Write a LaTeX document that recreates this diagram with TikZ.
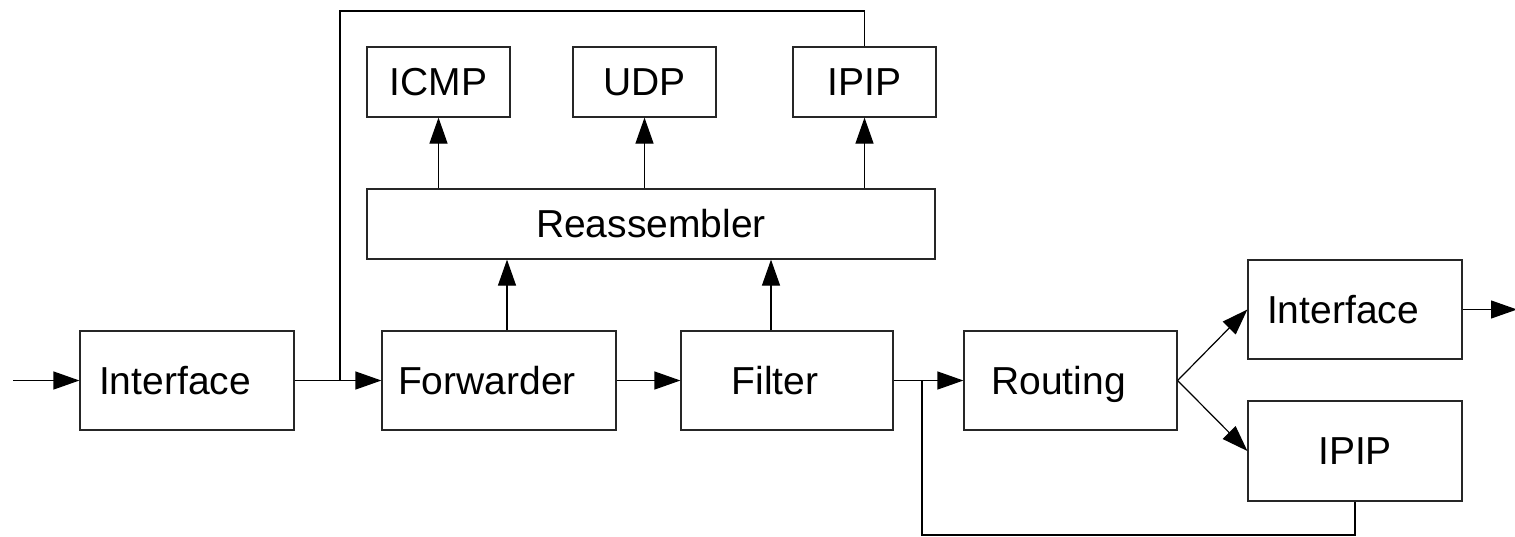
\documentclass[tikz,border=0pt]{standalone}
\usepackage{fontspec}
\setmainfont{Liberation Sans}
\usetikzlibrary{arrows.meta}
\begin{document}
\begin{tikzpicture}[x=0.5pt,y=-0.5pt,
  every node/.style={font=\fontsize{19.5}{23}\selectfont,
    text height=14pt,text depth=0.5pt},
  block/.style={draw=black!85,line width=0.6pt,fill=white,inner sep=0pt,
    minimum width=#1*0.5pt,minimum height=49.5pt},
  block/.default=214,
  smallblock/.style={draw=black!85,line width=0.6pt,fill=white,inner sep=0pt,
    minimum width=71.5pt,minimum height=35pt},
  wire/.style={draw=black,line width=0.6pt},
  flow/.style={wire,-{Triangle[length=13pt,width=9pt]}}]
\useasboundingbox (0,0) rectangle (1515,536);

% main datapath (labels sit a little left of centre)
\newcommand{\lbl}[1]{#1\kern12pt}
\node[block=214]   (if1)   at (187,380.5)    {\lbl{Interface}};
\node[block=234]   (fwd)   at (499,380.5)    {\lbl{Forwarder}};
\node[block=212]   (filt)  at (787,380.5)    {\lbl{Filter}};
\node[block=213]   (rout)  at (1070.5,380.5) {\lbl{Routing}};
\node[block=214]   (if2)   at (1355,309.5)   {\lbl{Interface}};
\node[block=214,minimum height=50pt] (ipip2) at (1355,451) {IPIP};

% reassembly and protocol handlers
\node[draw=black!85,line width=0.6pt,inner sep=0pt,minimum width=284pt,
      minimum height=35pt] (reasm) at (651,224) {Reassembler};
\node[smallblock] (icmp)  at (438.5,82) {ICMP};
\node[smallblock] (udp)   at (644.5,82) {UDP};
\node[smallblock] (ipip1) at (864.5,82) {IPIP};

% junctions and loose ends
\coordinate (src)  at (13,380.5);
\coordinate (sink) at (1517,309.5);
\coordinate (j1)   at (340,380.5);
\coordinate (j2)   at (922,380.5);

% forward path
\draw[flow] (src) -- (src -| if1.west);
\draw[flow] (if1.east) -- (fwd.west);
\draw[flow] (fwd.east) -- (filt.west);
\draw[flow] (filt.east) -- (rout.west);
\draw[flow] (rout.east) -- (if2.west);
\draw[flow] (rout.east) -- (ipip2.west);
\draw[flow] (if2.east) -- (sink);

% up into the reassembler and its handlers
\draw[flow] ([xshift=4]fwd.north) -- ([xshift=4]fwd.north |- reasm.south);
\draw[flow] ([xshift=-8]filt.north) -- ([xshift=-8]filt.north |- reasm.south);
\draw[flow] (reasm.north -| icmp.south) -- (icmp.south);
\draw[flow] (reasm.north -| udp.south) -- (udp.south);
\draw[flow] (reasm.north -| ipip1.south) -- (ipip1.south);

% decapsulated packets re-enter the pipeline
\draw[wire] (ipip1.north) |- (340,11) -- (j1);
\draw[wire] (ipip2.south) |- (922,535) -- (j2);
\end{tikzpicture}
\end{document}
